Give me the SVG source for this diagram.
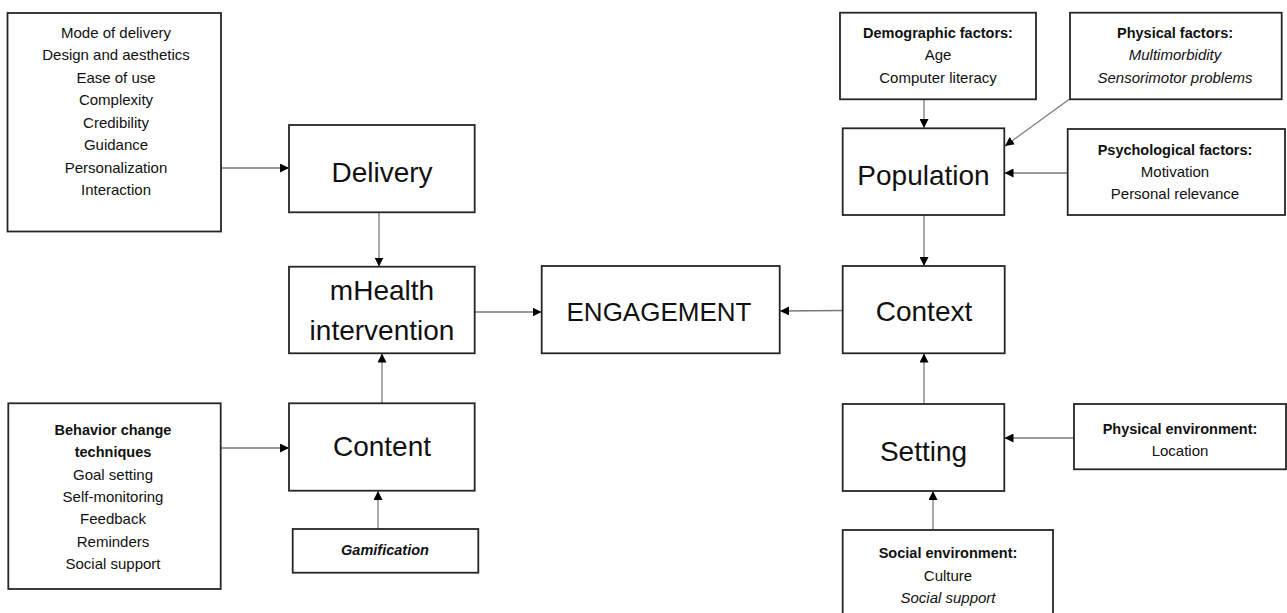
<svg xmlns="http://www.w3.org/2000/svg" width="1287" height="613" viewBox="0 0 1287 613">
  <defs>
    <marker id="arrow" viewBox="0 0 10 10" refX="10" refY="5" markerWidth="9" markerHeight="9" markerUnits="userSpaceOnUse" orient="auto">
      <path d="M0,0 L10,5 L0,10 Z" fill="#000"/>
    </marker>
    <style>
      .box { fill: #fff; stroke: #262626; stroke-width: 1.8; }
      .conn { fill: none; stroke: #7a7a7a; stroke-width: 1.3; marker-end: url(#arrow); }
      text { font-family: "Liberation Sans", Arial, sans-serif; fill: #111; text-anchor: middle; }
      .big { font-size: 28px; }
      .eng { font-size: 26px; }
      .sm { font-size: 15px; }
      .b { font-size: 14.5px; font-weight: bold; }
      .i { font-style: italic; }
    </style>
  </defs>

  <rect width="1287" height="613" fill="#fff"/>

  <!-- connectors -->
  <g id="connectors">
    <line class="conn" x1="221" y1="168" x2="289" y2="168"/>
    <line class="conn" x1="379" y1="212" x2="379" y2="266.5"/>
    <line class="conn" x1="382" y1="403" x2="382" y2="353.5"/>
    <line class="conn" x1="378" y1="529" x2="378" y2="491"/>
    <line class="conn" x1="221" y1="448" x2="289" y2="448"/>
    <line class="conn" x1="475" y1="312" x2="541.5" y2="312"/>
    <line class="conn" x1="843" y1="310.5" x2="780" y2="311"/>
    <line class="conn" x1="924" y1="99" x2="924" y2="128"/>
    <line class="conn" x1="1069" y1="99.5" x2="1005" y2="146"/>
    <line class="conn" x1="1068" y1="173" x2="1004.5" y2="173"/>
    <line class="conn" x1="924" y1="215" x2="924" y2="266"/>
    <line class="conn" x1="924" y1="404" x2="924" y2="353.5"/>
    <line class="conn" x1="1074" y1="438" x2="1004.5" y2="438"/>
    <line class="conn" x1="933" y1="530" x2="933" y2="491"/>
  </g>

  <!-- delivery factors -->
  <g id="delivery-factors">
    <rect class="box" x="7.5" y="13" width="213.5" height="218.5"/>
    <text class="sm" x="116" y="37.8">Mode of delivery</text>
    <text class="sm" x="116" y="60.2">Design and aesthetics</text>
    <text class="sm" x="116" y="82.7">Ease of use</text>
    <text class="sm" x="116" y="105.1">Complexity</text>
    <text class="sm" x="116" y="127.6">Credibility</text>
    <text class="sm" x="116" y="150">Guidance</text>
    <text class="sm" x="116" y="172.5">Personalization</text>
    <text class="sm" x="116" y="194.9">Interaction</text>
  </g>

  <g id="delivery">
    <rect class="box" x="289" y="125" width="185.7" height="87.3"/>
    <text class="big" x="382" y="181.7">Delivery</text>
  </g>

  <g id="mhealth">
    <rect class="box" x="289" y="266.7" width="185.7" height="86.6"/>
    <text class="big" x="382" y="300">mHealth</text>
    <text class="big" x="382" y="340">intervention</text>
  </g>

  <g id="content">
    <rect class="box" x="289" y="403.3" width="185.7" height="87.4"/>
    <text class="big" x="382" y="456">Content</text>
  </g>

  <g id="bct">
    <rect class="box" x="8.3" y="403.3" width="212.4" height="185.7"/>
    <text class="b" x="113" y="434.5">Behavior change</text>
    <text class="b" x="113" y="457">techniques</text>
    <text class="sm" x="113" y="479.5">Goal setting</text>
    <text class="sm" x="113" y="502">Self-monitoring</text>
    <text class="sm" x="113" y="524.3">Feedback</text>
    <text class="sm" x="113" y="546.7">Reminders</text>
    <text class="sm" x="113" y="569">Social support</text>
  </g>

  <g id="gamification">
    <rect class="box" x="292.7" y="529" width="185.6" height="43.7"/>
    <text class="b i" x="385" y="555">Gamification</text>
  </g>

  <g id="engagement">
    <rect class="box" x="541.7" y="266" width="238" height="87.3"/>
    <text class="eng" x="659" y="321">ENGAGEMENT</text>
  </g>

  <g id="context">
    <rect class="box" x="842.7" y="266" width="162" height="87.3"/>
    <text class="big" x="924" y="320.7">Context</text>
  </g>

  <g id="population">
    <rect class="box" x="842.7" y="128.3" width="161.6" height="86.7"/>
    <text class="big" x="923.5" y="185">Population</text>
  </g>

  <g id="setting">
    <rect class="box" x="842.7" y="404" width="161.6" height="87"/>
    <text class="big" x="923.5" y="461">Setting</text>
  </g>

  <g id="demographic">
    <rect class="box" x="840" y="12.7" width="196" height="86.6"/>
    <text class="b" x="938" y="37.7">Demographic factors:</text>
    <text class="sm" x="938" y="60">Age</text>
    <text class="sm" x="938" y="82.7">Computer literacy</text>
  </g>

  <g id="physical">
    <rect class="box" x="1070" y="12.7" width="211.7" height="86.6"/>
    <text class="b" x="1175" y="37.7">Physical factors:</text>
    <text class="sm i" x="1175" y="60">Multimorbidity</text>
    <text class="sm i" x="1175" y="82.7">Sensorimotor problems</text>
  </g>

  <g id="psychological">
    <rect class="box" x="1067.7" y="129" width="217.3" height="86"/>
    <text class="b" x="1175" y="155">Psychological factors:</text>
    <text class="sm" x="1175" y="176.7">Motivation</text>
    <text class="sm" x="1175" y="199.3">Personal relevance</text>
  </g>

  <g id="physical-environment">
    <rect class="box" x="1074" y="404" width="212" height="65.3"/>
    <text class="b" x="1180" y="434.3">Physical environment:</text>
    <text class="sm" x="1180" y="456">Location</text>
  </g>

  <g id="social-environment">
    <rect class="box" x="842.7" y="530" width="210.3" height="95"/>
    <text class="b" x="948" y="558.3">Social environment:</text>
    <text class="sm" x="948" y="580.7">Culture</text>
    <text class="sm i" x="948" y="603.3">Social support</text>
  </g>
</svg>
